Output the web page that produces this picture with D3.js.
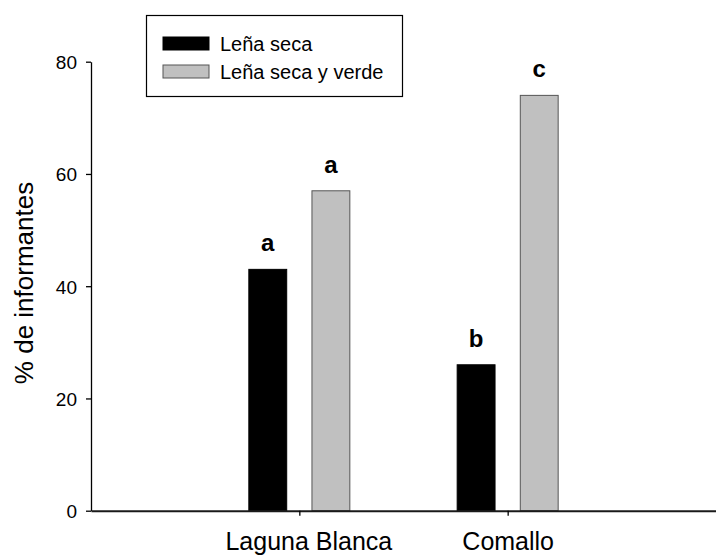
<!DOCTYPE html>
<html>
<head>
<meta charset="utf-8">
<script src="https://cdn.jsdelivr.net/npm/d3@7"></script>
<style>
  body { margin: 0; background: white; }
  svg { font-family: Arial, "Liberation Sans", sans-serif; }
</style>
</head>
<body>
<div id="mydiv"></div>
<script>
// data
var groups = ["Laguna Blanca", "Comallo"];
var series = ["Leña seca", "Leña seca y verde"];
var seca = [43, 26];
var secaVerde = [57, 74];
var letrasSeca = ["a", "b"];
var letrasSecaVerde = ["a", "c"];
var yTicks = [0, 20, 40, 60, 80];
var colors = ["#000000", "#c0c0c0"];
var strokes = ["#000000", "#555555"];

var width = 716, height = 557;

var svg = d3.select("#mydiv").append("svg")
  .attr("width", width)
  .attr("height", height)
  .style("background-color", "white");

// x: groups sit at 1 and 2 on a 0..3 axis
var x = d3.scaleLinear().domain([0, 3]).range([91, 716]);
var y = d3.scaleLinear().domain([0, 80]).range([510.7, 61.7]);

// inner band for the two series in each group
var xs = d3.scaleBand().domain(series).range([-50.5, 50.5]).paddingInner(0.4);

var data = [];
groups.forEach(function(g, i) {
  data.push({group: i, serie: series[0], value: seca[i], letra: letrasSeca[i], k: 0});
  data.push({group: i, serie: series[1], value: secaVerde[i], letra: letrasSecaVerde[i], k: 1});
});

// bars
svg.selectAll(".bar")
  .data(data)
  .enter().append("rect")
  .attr("class", "bar")
  .attr("x", function(d) { return x(d.group + 1) + xs(d.serie); })
  .attr("width", xs.bandwidth())
  .attr("y", function(d) { return y(d.value); })
  .attr("height", function(d) { return y(0) - y(d.value); })
  .attr("fill", function(d) { return colors[d.k]; })
  .attr("stroke", function(d) { return strokes[d.k]; })
  .attr("stroke-width", 1);

// letters above bars
svg.selectAll(".letra")
  .data(data)
  .enter().append("text")
  .attr("class", "letra")
  .attr("x", function(d) { return x(d.group + 1) + xs(d.serie) + xs.bandwidth() / 2; })
  .attr("y", function(d) { return y(d.value) - 18; })
  .attr("text-anchor", "middle")
  .style("font-size", "24px")
  .style("font-weight", "bold")
  .text(function(d) { return d.letra; });

// y axis
var yaxis = svg.append("g")
  .attr("transform", "translate(91,0)")
  .call(d3.axisLeft(y).tickValues(yTicks).tickSize(5).tickSizeOuter(0).tickPadding(9));
yaxis.selectAll("text").style("font-size", "19px").style("fill", "#000").attr("dy", "0.36em");
yaxis.select(".domain").attr("stroke", "#000").attr("stroke-width", 1.3);
yaxis.selectAll(".tick line").attr("stroke", "#000").attr("stroke-width", 1.3);

// x axis
var xaxis = svg.append("g")
  .attr("transform", "translate(0," + y(0) + ")")
  .call(d3.axisBottom(x).tickValues([1, 2])
    .tickFormat(function(d) { return groups[d - 1]; })
    .tickSize(5).tickSizeOuter(0).tickPadding(17));
xaxis.selectAll("text").style("font-size", "25px").style("fill", "#000")
  .attr("dx", function(d) { return d == 1 ? 9 : 0; });
xaxis.select(".domain").attr("stroke", "#1a1a1a").attr("stroke-width", 2);
xaxis.selectAll(".tick line").attr("stroke", "#000").attr("stroke-width", 1.3);

// y title
svg.append("text")
  .attr("transform", "translate(33,283) rotate(-90)")
  .attr("text-anchor", "middle")
  .style("font-size", "26px")
  .text("% de informantes");

// legend
var legend = svg.append("g");
legend.append("rect")
  .attr("x", 146.5).attr("y", 15.5)
  .attr("width", 256).attr("height", 81)
  .attr("fill", "white")
  .attr("stroke", "#000").attr("stroke-width", 1.2);

var items = legend.selectAll(".item")
  .data(series)
  .enter().append("g")
  .attr("class", "item")
  .attr("transform", function(d, i) { return "translate(0," + (i * 28) + ")"; });

items.append("rect")
  .attr("x", 163).attr("y", 37)
  .attr("width", 46).attr("height", 13)
  .attr("fill", function(d, i) { return colors[i]; })
  .attr("stroke", function(d, i) { return strokes[i]; })
  .attr("stroke-width", 1);

items.append("text")
  .attr("x", 220).attr("y", 50.5)
  .style("font-size", "20px")
  .text(function(d) { return d; });
</script>
</body>
</html>
